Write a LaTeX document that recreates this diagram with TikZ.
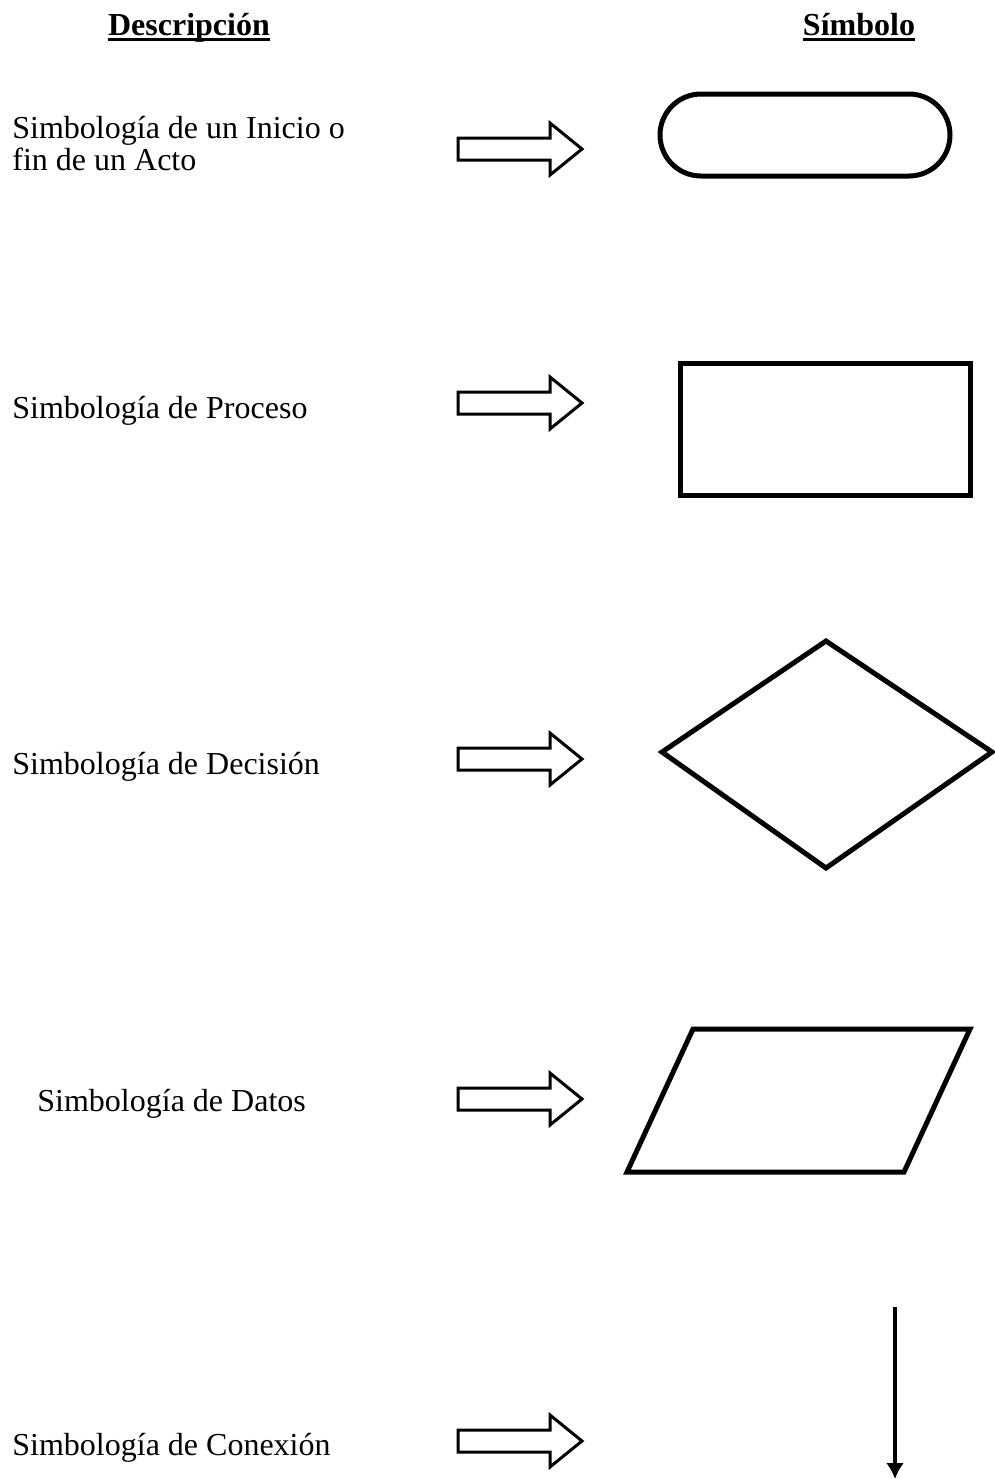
\documentclass[tikz,border=0pt]{standalone}
\usepackage{fontspec}
\setmainfont{Liberation Serif}
\usetikzlibrary{arrows.meta}
\begin{document}
\begin{tikzpicture}[x=0.5pt,y=-0.5pt,
  desc/.style={anchor=base west,inner sep=0pt,font=\fontsize{16}{16}\selectfont},
  head/.style={anchor=base,inner sep=0pt,font=\fontsize{16}{16}\selectfont\bfseries},
  symbolline/.style={line width=2.5pt,line join=miter},
  hollow/.style={line width=1.5pt,line join=miter}]
\useasboundingbox (0,0) rectangle (995,1479);
% hollow pointing arrow, tail at the given coordinate
\newcommand\pointer[1]{%
  \draw[hollow,shift={(#1)}] (0,-11) -- (92,-11) -- (92,-26) -- (124,0)
    -- (92,26) -- (92,11) -- (0,11) -- cycle;}
% thick underline for the headings
\newcommand\thickul[1]{\setbox0\hbox{#1}\rlap{\rule[-2.8pt]{\wd0}{1.4pt}}\box0}

% column headings
\node[head] (hdesc) at (189,35) {\thickul{Descripción}};
\node[head] (hsym) at (859,35) {\thickul{Símbolo}};

% start / end
\node[desc,align=left] (t1) at (12,170) {Simbología de un Inicio o\\fin de un Acto};
\pointer{458,149}
\draw[symbolline] (701,94) -- (909,94) arc[start angle=-90,end angle=90,radius=41]
  -- (701,176) arc[start angle=90,end angle=270,radius=41] -- cycle;

% process
\node[desc] (t2) at (12,418) {Simbología de Proceso};
\pointer{458,403}
\draw[symbolline] (680,363) rectangle (970,495);

% decision
\node[desc] (t3) at (12,774) {Simbología de Decisión};
\pointer{458,759}
\draw[symbolline] (662,752) -- (826,641) -- (992,752) -- (826,868) -- cycle;

% data
\node[desc] (t4) at (37,1111) {Simbología de Datos};
\pointer{458,1099}
\draw[symbolline] (693,1029) -- (970,1029) -- (904,1172) -- (627,1172) -- cycle;

% connection
\node[desc] (t5) at (12,1455) {Simbología de Conexión};
\pointer{458,1441}
\coordinate (c1) at (895,1307);
\coordinate (c2) at (895,1479);
\draw[line width=2.3pt,-{Latex[length=8pt,width=9pt]}] (c1) -- (c2);
\end{tikzpicture}
\end{document}
